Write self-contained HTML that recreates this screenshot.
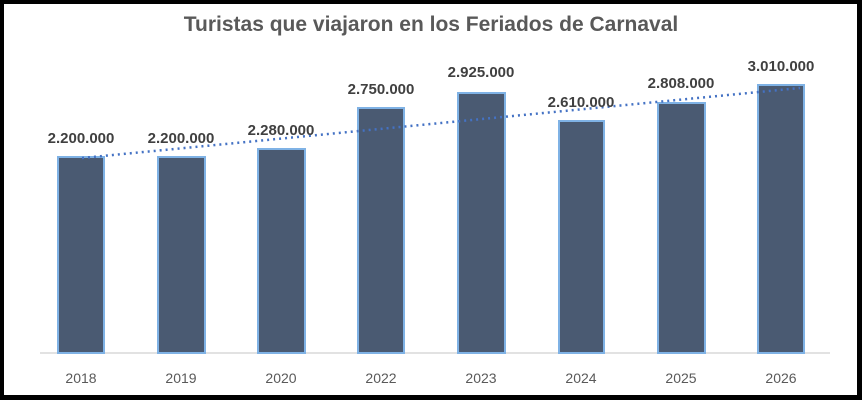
<!DOCTYPE html>
<html><head><meta charset="utf-8"><style>
body{margin:0;background:#000}
svg{display:block}
</style></head><body>
<svg width="862" height="400" xmlns="http://www.w3.org/2000/svg" font-family="'Liberation Sans', sans-serif">
<rect x="0" y="0" width="862" height="400" fill="#000"/>
<rect x="4" y="4" width="853" height="391" fill="#fff"/>
<text x="431" y="31" text-anchor="middle" font-size="21" font-weight="bold" fill="#595959">Turistas que viajaron en los Feriados de Carnaval</text>
<line x1="40" y1="353" x2="830" y2="353" stroke="#d9d9d9" stroke-width="1.5"/>
<g fill="#4a5a72" stroke="#7fb2e5" stroke-width="2">
<rect x="58" y="157" width="46" height="196"/>
<rect x="158" y="157" width="47" height="196"/>
<rect x="258" y="149" width="47" height="204"/>
<rect x="358" y="108" width="46" height="245"/>
<rect x="458" y="93" width="47" height="260"/>
<rect x="559" y="121" width="45" height="232"/>
<rect x="658" y="103" width="47" height="250"/>
<rect x="758" y="85" width="46" height="268"/>
</g>
<line x1="82" y1="158" x2="800" y2="88" stroke="#4472c4" stroke-width="2.5" stroke-dasharray="2,4"/>
<g font-size="15" font-weight="bold" fill="#404040" text-anchor="middle">
<text x="81" y="143">2.200.000</text>
<text x="181" y="143">2.200.000</text>
<text x="281" y="135">2.280.000</text>
<text x="381" y="94">2.750.000</text>
<text x="481" y="77">2.925.000</text>
<text x="581" y="107">2.610.000</text>
<text x="681" y="88">2.808.000</text>
<text x="781" y="71">3.010.000</text>
</g>
<g font-size="14" fill="#595959" text-anchor="middle">
<text x="81" y="383">2018</text>
<text x="181" y="383">2019</text>
<text x="281" y="383">2020</text>
<text x="381" y="383">2022</text>
<text x="481" y="383">2023</text>
<text x="581" y="383">2024</text>
<text x="681" y="383">2025</text>
<text x="781" y="383">2026</text>
</g>
</svg>
</body></html>
